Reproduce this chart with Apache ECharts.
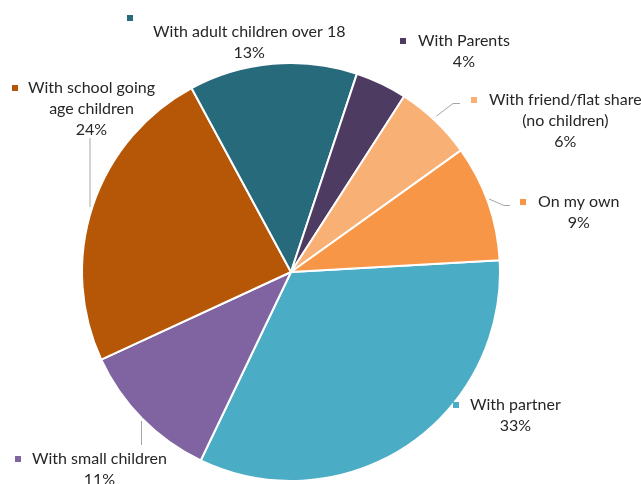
<!DOCTYPE html>
<html>
<head>
<meta charset="utf-8">
<script src="https://cdn.jsdelivr.net/npm/echarts@6/dist/echarts.min.js"></script>
<style>
html,body{margin:0;padding:0;background:#fff;}
#chart{width:641px;height:484px;}
</style>
</head>
<body>
<div id="chart"></div>
<script>
// ---- data ----
const categories = [
  'With partner',
  'With small children',
  'With school going\nage children',
  'With adult children over 18',
  'With Parents',
  'With friend/flat share\n(no children)',
  'On my own'
];
const values = [33, 11, 24, 13, 4, 6, 9];
const colors = ['#4BACC6', '#8064A2', '#B65708', '#276A7C', '#4E3B62', '#F9B074', '#F79646'];

// ---- label layout (left/top of each label block, key placement, leader lines) ----
const labelPos = [
  [453, 394.5], [15, 448.5], [12, 77.5], [127, 15], [400, 30.5], [471, 89.5], [520, 191.5]
];
const keyOwnLine = [false, false, false, true, false, false, false];
const keyGap = [11, 11, 10, 20, 12, 12, 12];
const leaderLines = [
  null,
  [[141.5, 421], [141.5, 433], [141.5, 445]],
  [[90, 207], [90, 172], [90, 138]],
  null,
  null,
  [[436.5, 116], [453, 103.5], [460, 103.5]],
  [[489, 199], [504, 205.5], [510, 205.5]]
];

const FONT = 'Lato';
const TEXTC = '#262626';

const data = categories.map((name, i) => {
  const kw = 6;
  const rich = {
    k: { backgroundColor: colors[i], width: kw, height: kw, align: 'left', lineHeight: keyOwnLine[i] ? 6 : 21 },
    g: { width: keyGap[i], align: 'left', lineHeight: 21 },
    s: { width: kw + keyGap[i], align: 'left', lineHeight: 21 },
    t: { align: 'center', fontFamily: FONT, fontSize: 16, color: TEXTC, lineHeight: 21 }
  };
  return {
    name: name,
    value: values[i],
    itemStyle: { color: colors[i] },
    labelLine: { show: !!leaderLines[i], length: 6, length2: 6, lineStyle: { color: '#A6A6A6', width: 1 } },
    label: { rich: rich }
  };
});

const chart = echarts.init(document.getElementById('chart'), null, { renderer: 'canvas' });
chart.setOption({
  animation: false,
  backgroundColor: '#ffffff',
  series: [{
    type: 'pie',
    center: [291, 272],
    radius: 209,
    startAngle: 3.2,
    clockwise: true,
    percentPrecision: 0,
    avoidLabelOverlap: false,
    itemStyle: { borderColor: '#ffffff', borderWidth: 2 },
    label: {
      show: true,
      position: 'outside',
      formatter: function (p) {
        const i = p.dataIndex;
        const lines = p.name.split('\n').concat([p.percent + '%']);
        let out = [];
        if (keyOwnLine[i]) {
          out.push('{k| }');
          lines.forEach(l => out.push('{s| }{t|' + l + '}'));
        } else {
          lines.forEach((l, j) => out.push((j === 0 ? '{k| }{g| }' : '{s| }') + '{t|' + l + '}'));
        }
        return out.join('\n');
      }
    },
    labelLayout: function (params) {
      const i = params.dataIndex;
      const p = labelPos[i];
      const res = { x: p[0], y: p[1], align: 'left', verticalAlign: 'top' };
      if (leaderLines[i]) res.labelLinePoints = leaderLines[i];
      return res;
    },
    data: data
  }]
});
</script>
</body>
</html>
